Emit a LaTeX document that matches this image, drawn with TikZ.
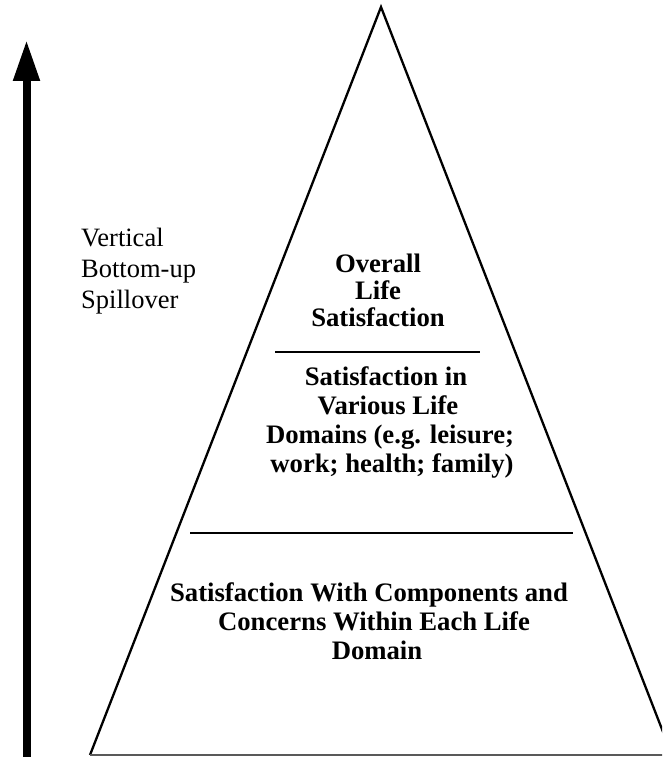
\documentclass[tikz,border=0pt]{standalone}
\usepackage{fontspec}
\setmainfont{Liberation Serif}
\usetikzlibrary{arrows.meta}
\begin{document}
\begin{tikzpicture}[x=1pt,y=-1pt,
  edge/.style={line width=2.3pt, line join=miter},
  divider/.style={line width=2pt},
  boldline/.style={anchor=base, inner sep=0pt, font=\fontsize{26.7}{29}\selectfont\bfseries},
  plainline/.style={anchor=base west, inner sep=0pt, font=\fontsize{26.5}{31}\selectfont}]
\useasboundingbox (0,0) rectangle (662,757);
\clip (0,0) rectangle (662,757);
% arrow
\coordinate (arrowbot) at (26.5,760);
\coordinate (arrowtip) at (26.5,40);
\draw[line width=8pt, -{Triangle[width=25pt,length=41pt]}] (arrowbot) -- (arrowtip);
% pyramid
\coordinate (apex) at (381,7);
\coordinate (bl) at (90,755);
\coordinate (br) at (672,755);
\draw[edge] (bl) -- (apex) -- (br);
\draw[line width=1.8pt, black!65] (bl) -- (br);
\coordinate (d1a) at (275,352);
\coordinate (d1b) at (480,352);
\coordinate (d2a) at (190,533);
\coordinate (d2b) at (573,533);
\draw[divider] (d1a) -- (d1b);
\draw[divider] (d2a) -- (d2b);
% left label
\node[plainline] (v1) at (81,246) {Vertical};
\node[plainline] (v2) at (81,277) {Bottom-up};
\node[plainline] (v3) at (81,308) {Spillover};
% top block
\node[boldline] (t1) at (378,272) {Overall};
\node[boldline] (t2) at (378,299) {Life};
\node[boldline] (t3) at (378,326) {Satisfaction};
% middle block
\node[boldline] (m1) at (386,385) {Satisfaction in};
\node[boldline] (m2) at (388,414) {Various Life};
\node[boldline] (m3) at (390,443) {Domains (e.g. leisure;};
\node[boldline] (m4) at (392,472) {work; health; family)};
% bottom block
\node[boldline] (b1) at (369,601) {Satisfaction With Components and};
\node[boldline] (b2) at (374,630) {Concerns Within Each Life};
\node[boldline] (b3) at (377,659) {Domain};
\end{tikzpicture}
\end{document}
